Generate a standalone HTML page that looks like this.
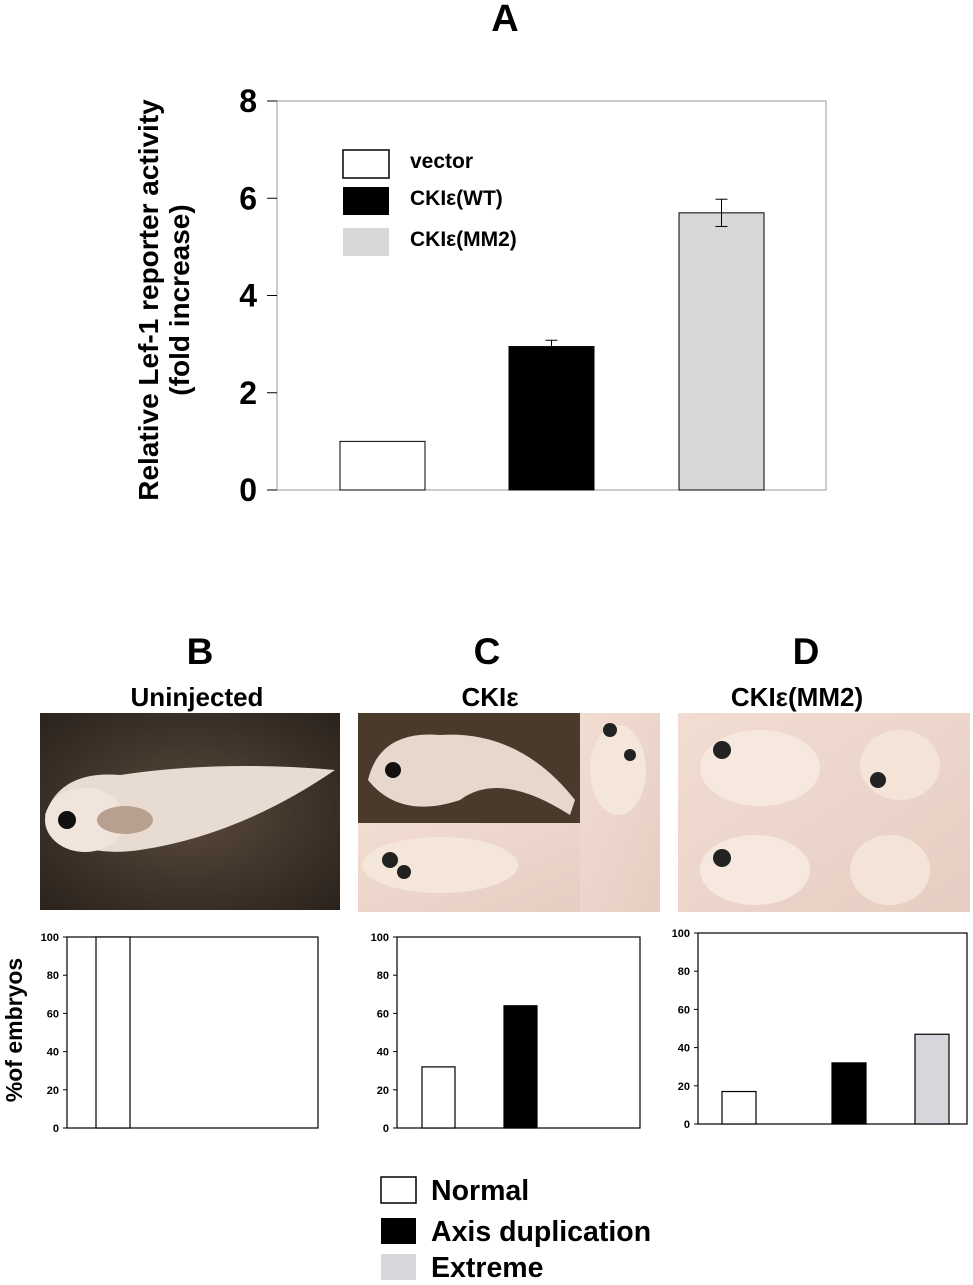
<!DOCTYPE html>
<html><head><meta charset="utf-8"><style>
body{margin:0;background:#fff;width:973px;height:1280px;overflow:hidden;font-family:"Liberation Sans",sans-serif;}
svg text{font-family:"Liberation Sans","DejaVu Sans",sans-serif;font-weight:bold;}
</style></head><body>
<svg id="fig" width="973" height="1280" xmlns="http://www.w3.org/2000/svg">
<defs>
<radialGradient id="darkbg" cx="50%" cy="50%" r="70%"><stop offset="0" stop-color="#5a4a3c"/><stop offset="1" stop-color="#2a221c"/></radialGradient>
<linearGradient id="palebg" x1="0" y1="0" x2="1" y2="1"><stop offset="0" stop-color="#f2ddd3"/><stop offset="1" stop-color="#e6cdc2"/></linearGradient>
</defs>
<text x="505" y="31" font-size="38" text-anchor="middle">A</text>
<g id="chartA"></g>
<text x="200" y="664" font-size="37" text-anchor="middle">B</text>
<text x="197" y="706" font-size="26" text-anchor="middle">Uninjected</text>
<text x="487" y="664" font-size="37" text-anchor="middle">C</text>
<text x="490" y="706" font-size="26" text-anchor="middle">CKIε</text>
<text x="806" y="664" font-size="37" text-anchor="middle">D</text>
<text x="797" y="706" font-size="26" text-anchor="middle">CKIε(MM2)</text>
<g>
<rect x="40" y="713" width="300" height="197" fill="url(#darkbg)"/>
<path d="M45 815 Q60 770 120 775 Q220 760 335 770 Q240 835 140 850 Q70 860 45 815Z" fill="#e8dcd2"/>
<ellipse cx="85" cy="820" rx="40" ry="32" fill="#f0e4dc"/>
<circle cx="67" cy="820" r="9" fill="#111"/>
<ellipse cx="125" cy="820" rx="28" ry="14" fill="#b8a090"/>
</g>
<g>
<rect x="358" y="713" width="222" height="110" fill="#4a3a2c"/>
<path d="M368 780 Q380 730 440 735 Q520 730 575 800 L570 815 Q500 770 460 800 Q400 820 368 780Z" fill="#e6d8cc"/>
<circle cx="393" cy="770" r="8" fill="#111"/>
<rect x="358" y="823" width="222" height="89" fill="url(#palebg)"/>
<ellipse cx="440" cy="865" rx="78" ry="28" fill="#f4e6d8"/>
<circle cx="390" cy="860" r="8" fill="#222"/><circle cx="404" cy="872" r="7" fill="#222"/>
<rect x="580" y="713" width="80" height="199" fill="url(#palebg)"/>
<ellipse cx="618" cy="770" rx="28" ry="45" fill="#f4e6da"/>
<circle cx="610" cy="730" r="7" fill="#222"/><circle cx="630" cy="755" r="6" fill="#222"/>
</g>
<g>
<rect x="678" y="713" width="292" height="199" fill="url(#palebg)"/>
<ellipse cx="760" cy="768" rx="60" ry="38" fill="#f6e8de"/><circle cx="722" cy="750" r="9" fill="#222"/>
<ellipse cx="900" cy="765" rx="40" ry="35" fill="#f4e4d8"/><circle cx="878" cy="780" r="8" fill="#222"/>
<ellipse cx="755" cy="870" rx="55" ry="35" fill="#f6e8de"/><circle cx="722" cy="858" r="9" fill="#222"/>
<ellipse cx="890" cy="870" rx="40" ry="35" fill="#f4e4d8"/>
</g>
<g id="chartB"></g><g id="chartC"></g><g id="chartD"></g>
<text transform="translate(22,1030) rotate(-90)" font-size="23" text-anchor="middle">%of embryos</text>
<g>
<rect x="381" y="1177" width="35" height="26" fill="#fff" stroke="#000" stroke-width="1.5"/>
<text x="431" y="1200" font-size="28.5">Normal</text>
<rect x="381" y="1218" width="35" height="26" fill="#000"/>
<text x="431" y="1241" font-size="28.5">Axis duplication</text>
<rect x="381" y="1254" width="35" height="26" fill="#d6d6dc"/>
<text x="431" y="1277" font-size="28.5">Extreme</text>
</g>
</svg>
<script>
const NS="http://www.w3.org/2000/svg";
const aCategories=["vector","CKIε(WT)","CKIε(MM2)"];
const aValues=[1,2.95,5.7];
const aErrors=[0,0.13,0.28];
const aTicks=[0,2,4,6,8];
const bValues=[100];
const cValues=[32,64];
const dValues=[17,32,47];
const smallTicks=[0,20,40,60,80,100];
const fills=["#fff","#000","#d8d8d8"];
function mk(p,tag,attrs){const e=document.createElementNS(NS,tag);for(const k in attrs)e.setAttribute(k,attrs[k]);p.appendChild(e);return e;}
(function(){
const g=document.getElementById('chartA');
const x0=277,x1=826,y0=490,y1=101;
const ys=v=>y0-(v/8)*(y0-y1);
let r=mk(g,'rect',{x:x0,y:y1,width:x1-x0,height:y0-y1,fill:'#fff',stroke:'#999','stroke-width':1});


aTicks.forEach(t=>{
 mk(g,'line',{x1:x0-10,x2:x0,y1:ys(t),y2:ys(t),stroke:'#000'});
 const tx=mk(g,'text',{x:x0-20,y:ys(t)+11,'font-size':32,'text-anchor':'end'});tx.textContent=t;
 
 
});
const bx=[340,509,679],bw=85;
aValues.forEach((v,i)=>{
 const b=mk(g,'rect',{x:bx[i],y:ys(v),width:bw,height:y0-ys(v),fill:fills[i],stroke:'#000','stroke-width':1});
 
 
 if(aErrors[i]>0){const cx=bx[i]+bw/2;
  mk(g,'line',{x1:cx,x2:cx,y1:ys(v+aErrors[i]),y2:ys(v-aErrors[i]),stroke:'#000'});
  mk(g,'line',{x1:cx-6,x2:cx+6,y1:ys(v+aErrors[i]),y2:ys(v+aErrors[i]),stroke:'#000'});
  mk(g,'line',{x1:cx-6,x2:cx+6,y1:ys(v-aErrors[i]),y2:ys(v-aErrors[i]),stroke:'#000'});}
});
const ly=[150,187,228];
aCategories.forEach((c,i)=>{
 const s=mk(g,'rect',{x:343,y:ly[i],width:46,height:28,fill:fills[i],stroke:i==0?'#000':'none','stroke-width':1.5});
 
 
 const t=mk(g,'text',{x:410,y:ly[i]+18,'font-size':21});t.textContent=c;
 
 
});
const yt=mk(g,'text',{transform:'translate(172,300) rotate(-90)','font-size':28,'text-anchor':'middle'});


const t1=mk(yt,'tspan',{x:0,dy:-14});t1.textContent='Relative Lef-1 reporter activity';
const t2=mk(yt,'tspan',{x:0,dy:31});t2.textContent='(fold increase)';
})();
function small(id,vals,x0,x1,y1,y0,bx,bw){
 const g=document.getElementById(id);
 const ys=v=>y0-(v/100)*(y0-y1);
 const r=mk(g,'rect',{x:x0,y:y1,width:x1-x0,height:y0-y1,fill:'#fff',stroke:'#000','stroke-width':1.2});
 
 
 smallTicks.forEach(t=>{
  mk(g,'line',{x1:x0-4,x2:x0,y1:ys(t),y2:ys(t),stroke:'#000'});
  const tx=mk(g,'text',{x:x0-8,y:ys(t)+4,'font-size':11,'text-anchor':'end','font-weight':'normal'});tx.textContent=t;
  
  
 });
 vals.forEach((v,i)=>{
  const b=mk(g,'rect',{x:bx[i],y:ys(v),width:bw,height:y0-ys(v),fill:fills[i]==="#d8d8d8"?"#d6d6dc":fills[i],stroke:'#000','stroke-width':1.2});
  
  
 });
}
small('chartB',bValues,67,318,937,1128,[96],34);
small('chartC',cValues,397,640,937,1128,[422,504],33);
small('chartD',dValues,698,967,933,1124,[722,832,915],34);
</script>
</body></html>
